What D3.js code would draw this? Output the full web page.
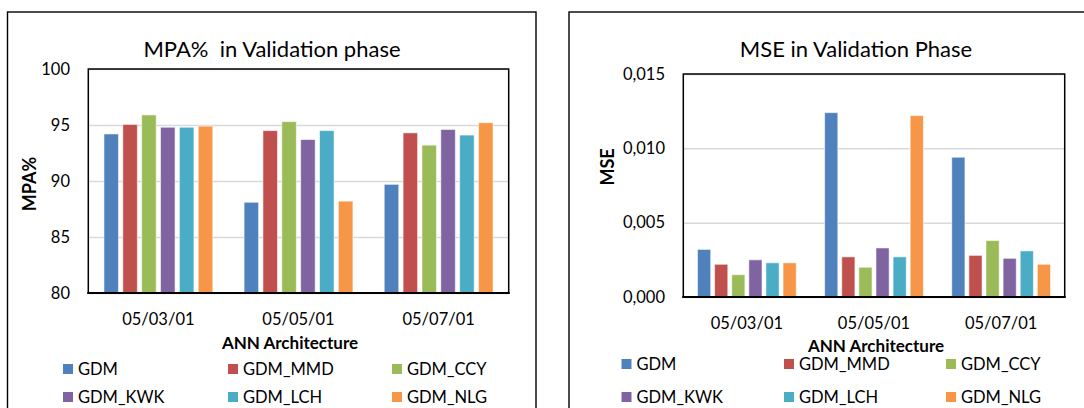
<!DOCTYPE html>
<html>
<head>
<meta charset="utf-8">
<script src="https://cdn.jsdelivr.net/npm/d3@7"></script>
<style>
  html, body { margin: 0; padding: 0; background: #fff; }
  svg { display: block; }
  text { font-family: Lato, "Open Sans", sans-serif; fill: #000; }
</style>
</head>
<body>
<svg id="chart" width="1084" height="408"></svg>
<script>
// ---------- data ----------
const categories = ["05/03/01", "05/05/01", "05/07/01"];
const seriesNames = ["GDM", "GDM_MMD", "GDM_CCY", "GDM_KWK", "GDM_LCH", "GDM_NLG"];
const seriesColors = ["#4F81BD", "#C0504D", "#9BBB59", "#8064A2", "#4BACC6", "#F79646"];

// MPA% in validation phase (per series, one value per category)
const mpa_GDM = [94.2, 88.1, 89.7];
const mpa_GDM_MMD = [95.05, 94.5, 94.3];
const mpa_GDM_CCY = [95.9, 95.3, 93.2];
const mpa_GDM_KWK = [94.8, 93.7, 94.6];
const mpa_GDM_LCH = [94.8, 94.5, 94.1];
const mpa_GDM_NLG = [94.9, 88.2, 95.2];
const mpaTicks = [80, 85, 90, 95, 100];

// MSE in validation phase
const mse_GDM = [0.0032, 0.0124, 0.0094];
const mse_GDM_MMD = [0.0022, 0.0027, 0.0028];
const mse_GDM_CCY = [0.0015, 0.0020, 0.0038];
const mse_GDM_KWK = [0.0025, 0.0033, 0.0026];
const mse_GDM_LCH = [0.0023, 0.0027, 0.0031];
const mse_GDM_NLG = [0.0023, 0.0122, 0.0022];
const mseTicks = [0, 0.005, 0.010, 0.015];

const mpaSeries = [mpa_GDM, mpa_GDM_MMD, mpa_GDM_CCY, mpa_GDM_KWK, mpa_GDM_LCH, mpa_GDM_NLG];
const mseSeries = [mse_GDM, mse_GDM_MMD, mse_GDM_CCY, mse_GDM_KWK, mse_GDM_LCH, mse_GDM_NLG];

const commaLocale = d3.formatLocale({decimal: ",", thousands: ".", grouping: [3], currency: ["", ""]});

const svg = d3.select("#chart");

function drawChart(cfg) {
  const g = svg.append("g");
  // outer frame
  g.append("rect")
    .attr("x", cfg.frame.x).attr("y", cfg.frame.y)
    .attr("width", cfg.frame.w).attr("height", cfg.frame.h)
    .attr("fill", "none").attr("stroke", "#000").attr("stroke-width", 1.4);

  const p = cfg.plot;
  const x0 = d3.scaleBand().domain(categories).range([p.left, p.right]).paddingInner(0).paddingOuter(0);
  const x1 = d3.scaleBand().domain(seriesNames).range([0, x0.bandwidth()]).paddingInner(0.23).paddingOuter(0.83);
  const y = d3.scaleLinear().domain(cfg.domain).range([p.bottom, p.top]);

  // gridlines via axis
  const grid = g.append("g").attr("transform", `translate(${p.left},0)`)
    .call(d3.axisLeft(y).tickValues(cfg.ticks).tickSize(-(p.right - p.left)).tickFormat(""));
  grid.select(".domain").remove();
  grid.selectAll(".tick line").attr("stroke", "#d9d9d9").attr("stroke-width", 1.5);

  // bars
  const rows = categories.map((c, ci) => ({cat: c, vals: cfg.series.map((s, si) => ({name: seriesNames[si], v: s[ci], color: seriesColors[si]}))}));
  const grp = g.selectAll("g.grp").data(rows).enter().append("g")
    .attr("transform", d => `translate(${x0(d.cat)},0)`);
  grp.selectAll("rect").data(d => d.vals).enter().append("rect")
    .attr("x", d => x1(d.name))
    .attr("width", x1.bandwidth())
    .attr("y", d => y(d.v))
    .attr("height", d => y(cfg.domain[0]) - y(d.v))
    .attr("fill", d => d.color)
    .attr("stroke", "#ffffff").attr("stroke-opacity", 0.55).attr("stroke-width", 1);

  // plot border
  g.append("rect")
    .attr("x", p.left).attr("y", p.top)
    .attr("width", p.right - p.left).attr("height", p.bottom - p.top)
    .attr("fill", "none").attr("stroke", "#000").attr("stroke-width", 1.5);
  g.append("line")
    .attr("x1", p.left - 1).attr("x2", p.right + 1)
    .attr("y1", p.bottom).attr("y2", p.bottom)
    .attr("stroke", "#000").attr("stroke-width", 2.2);

  // y tick labels via axis
  const ya = g.append("g").attr("transform", `translate(${cfg.yLabelX},0)`)
    .call(d3.axisLeft(y).tickValues(cfg.ticks).tickSize(0).tickPadding(0).tickFormat(cfg.fmt));
  ya.select(".domain").remove();
  ya.selectAll("text").attr("font-size", 16.5).attr("font-family", "Lato").attr("fill", "#000");

  // x tick labels via axis
  const xa = g.append("g").attr("transform", `translate(0,${cfg.xLabelY})`)
    .call(d3.axisBottom(x0).tickSize(0).tickPadding(0));
  xa.select(".domain").remove();
  xa.selectAll("text").attr("font-size", 16.5).attr("font-family", "Lato").attr("fill", "#000")
    .attr("dy", "0.35em");

  // title
  g.append("text").attr("x", cfg.titleX).attr("y", cfg.titleY)
    .attr("text-anchor", "middle").attr("dominant-baseline", "central")
    .attr("font-size", 22).style("white-space", "pre").text(cfg.title);

  // y axis title
  g.append("text")
    .attr("transform", `translate(${cfg.yTitleX},${cfg.yTitleY}) rotate(-90)`)
    .attr("text-anchor", "middle").attr("dominant-baseline", "central")
    .attr("font-size", 18).attr("font-weight", "bold").text(cfg.yTitle);

  // x axis title
  g.append("text").attr("x", cfg.xTitleX).attr("y", cfg.xTitleY)
    .attr("text-anchor", "middle").attr("dominant-baseline", "central")
    .attr("font-size", 17).attr("font-weight", "bold").text("ANN Architecture");

  // legend
  const leg = g.selectAll("g.leg").data(seriesNames).enter().append("g")
    .attr("transform", (d, i) => `translate(${cfg.legCols[i % 3]},${cfg.legRows[Math.floor(i / 3)]})`);
  leg.append("rect").attr("x", 0).attr("y", -5).attr("width", 10).attr("height", 10)
    .attr("fill", (d, i) => seriesColors[i]);
  leg.append("text").attr("x", 15).attr("y", 0).attr("dominant-baseline", "central")
    .attr("font-size", 16.5).text(d => d);
}

drawChart({
  frame: {x: 7.5, y: 12, w: 528.5, h: 420},
  plot: {left: 88.3, right: 508.7, top: 69, bottom: 293},
  domain: [80, 100], ticks: mpaTicks, series: mpaSeries,
  fmt: d3.format("d"),
  yLabelX: 70, xLabelY: 319,
  title: "MPA%  in Validation phase", titleX: 272, titleY: 48,
  yTitle: "MPA%", yTitleX: 29, yTitleY: 184,
  xTitleX: 290, xTitleY: 342,
  legCols: [63, 228, 392], legRows: [369, 397]
});

drawChart({
  frame: {x: 569, y: 12, w: 530, h: 420},
  plot: {left: 683.3, right: 1064.7, top: 74, bottom: 297},
  domain: [0, 0.015], ticks: mseTicks, series: mseSeries,
  fmt: commaLocale.format(".3f"),
  yLabelX: 665, xLabelY: 323,
  title: "MSE in Validation Phase", titleX: 856, titleY: 48,
  yTitle: "MSE", yTitleX: 607, yTitleY: 167,
  xTitleX: 876, xTitleY: 345,
  legCols: [621.5, 784, 946], legRows: [364, 397]
});
</script>
</body>
</html>
